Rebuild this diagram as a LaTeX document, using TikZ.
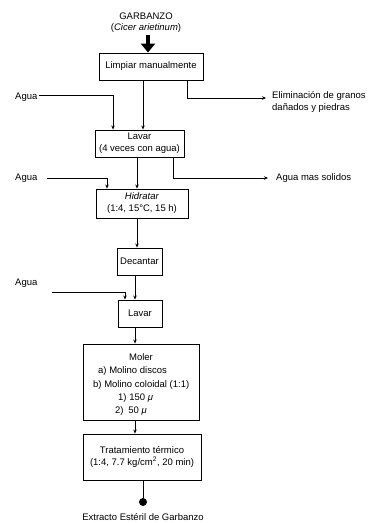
\documentclass[tikz,border=0pt]{standalone}
\usepackage{fontspec}
\setmainfont{Liberation Sans}
\usetikzlibrary{arrows.meta}
\begin{document}
\begin{tikzpicture}[x=1pt,y=-1pt,
  every node/.style={font=\fontsize{9.5}{12}\selectfont, inner sep=0pt},
  procbox/.style={draw, line width=0.9pt, inner sep=0pt, align=center},
  arr/.style={line width=0.7pt, -{Stealth[length=4pt,width=3.5pt]}},
  ln/.style={line width=0.7pt},
  bigarr/.style={line width=3.5pt, -{Triangle[length=9pt,width=14pt]}},
  lbl/.style={anchor=west, align=left}]
\useasboundingbox (0,0) rectangle (372,523);

% x reference coordinates
\coordinate (x107) at (107,0);
\coordinate (x113) at (113,0);
\coordinate (x125) at (125,0);
\coordinate (x135) at (135,0);
\coordinate (x137) at (137,0);
\coordinate (x143) at (143,0);
\coordinate (x148) at (148,0);
\coordinate (x173) at (173,0);
\coordinate (x187) at (187,0);

% texts at top
\node (garb) at (146,16) {GARBANZO};
\node (cicer) at (146,28) {(\textit{Cicer arietinum})};

% boxes
\node[procbox, minimum width=104pt, minimum height=27pt] (limp) at (151,66.5) {Limpiar manualmente};
\node[procbox, minimum width=89pt, minimum height=27pt] (lavA) at (139.5,143.5) {Lavar\\(4 veces con agua)};
\node[procbox, minimum width=92pt, minimum height=29pt] (hid) at (142,203.5) {\textit{Hidratar}\\(1:4, 15°C, 15 h)};
\node[procbox, minimum width=45pt, minimum height=27pt] (dec) at (139.5,261.5) {Decantar};
\node[procbox, minimum width=44pt, minimum height=27pt] (lavB) at (140,313.5) {Lavar};
\node[procbox, minimum width=116pt, minimum height=76pt] (mol) at (141,382) {};
\node[procbox, minimum width=118pt, minimum height=46pt] (trat) at (142,457) {Tratamiento térmico\\(1:4, 7.7 kg/cm\textsuperscript{2}, 20 min)};

% Moler contents
\node (m0) at (141,357) {Moler};
\node[anchor=west] (m1) at (98,371) {a) Molino discos};
\node[anchor=west] (m2) at (93,385) {b) Molino coloidal (1:1)};
\node[anchor=west] (m3) at (118,398) {1) 150 \textit{μ}};
\node[anchor=west] (m4) at (115,411) {2)\enspace 50 \textit{μ}};

% side labels
\node[anchor=west] (agua1) at (15,97) {Agua};
\node[anchor=west] (agua2) at (15,178) {Agua};
\node[anchor=west] (agua3) at (15,283) {Agua};
\node[lbl] (elim) at (272,102) {Eliminación de granos\\dañados y piedras};
\node[lbl] (sol) at (276,178) {Agua mas solidos};

% end
\node[circle, fill=black, minimum size=8pt] (dot) at (143,502) {};
\node (ext) at (143,517) {Extracto Estéril de Garbanzo};

% free-end coordinates
\coordinate (g0) at (148,35);
\coordinate (a1s) at (39,95);
\coordinate (a2s) at (47,178);
\coordinate (a3s) at (52,292);
\coordinate (elimE) at (266,98);
\coordinate (solE) at (268,178);

% connectors
\draw[bigarr] (g0) -- (limp.north -| x148);
\draw[arr] (limp.south -| x143) -- (lavA.north -| x143);
\draw[arr] (a1s) -| (lavA.north -| x113);
\draw[arr] (limp.south -| x187) |- (elimE);
\draw[arr] (lavA.south -| x137) -- (hid.north -| x137);
\draw[arr] (lavA.south -| x173) |- (solE);
\draw[arr] (a2s) -| (hid.north -| x107);
\draw[arr] (hid.south -| x137) -- (dec.north -| x137);
\draw[arr] (dec.south -| x135) -- (lavB.north -| x135);
\draw[arr] (a3s) -| (lavB.north -| x125);
\draw[arr] (lavB.south -| x135) -- (mol.north -| x135);
\draw[arr] (mol.south -| x135) -- (trat.north -| x135);
\draw[ln] (trat.south -| x143) -- (dot);
\end{tikzpicture}
\end{document}
